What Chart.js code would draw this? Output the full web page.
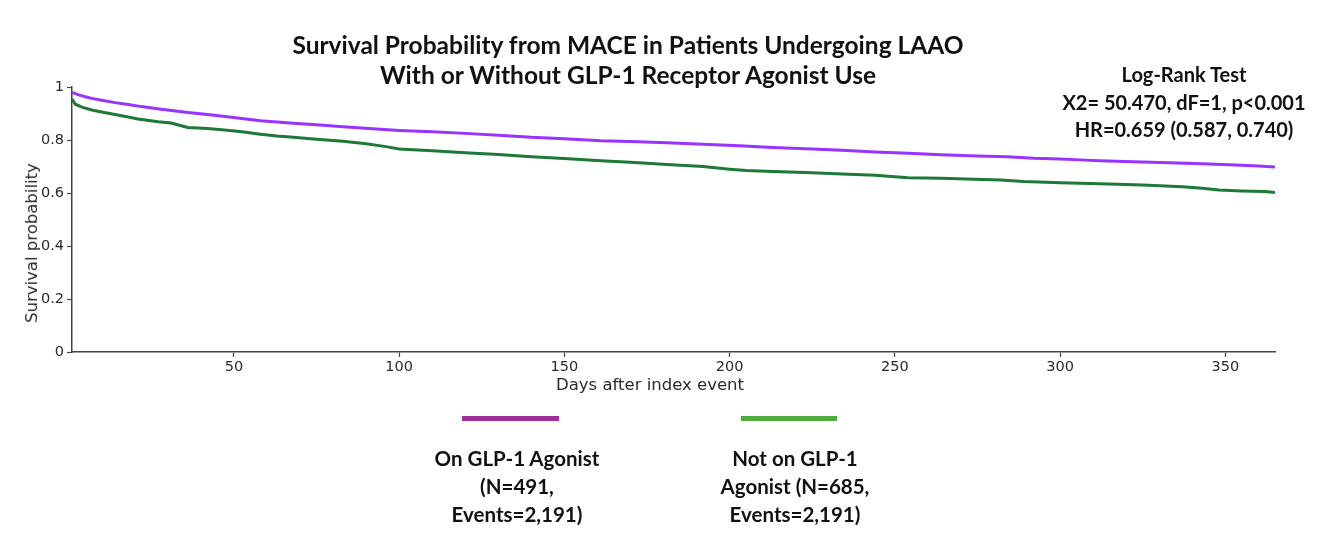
<!DOCTYPE html>
<html>
<head>
<meta charset="utf-8">
<script src="https://cdn.jsdelivr.net/npm/chart.js@4"></script>
<style>
  html, body { margin:0; padding:0; background:#fff; }
  #wrap { position:relative; width:1321px; height:546px; overflow:hidden; }
  canvas { position:absolute; left:0; top:0; }
  .t { position:absolute; font-family: Lato, "Open Sans", sans-serif; font-weight:bold; color:#111; text-align:center; white-space:nowrap; transform:translateX(-50%); }
  .ax { position:absolute; font-family: "DejaVu Sans", sans-serif; font-size:16.5px; color:#2a2a2a; white-space:nowrap; line-height:20px; }
  .bar { position:absolute; height:5px; }
</style>
</head>
<body>
<div id="wrap">
  <canvas id="c" width="1321" height="546"></canvas>
  <div class="t" style="left:628px; top:30px; font-size:24.5px; line-height:30px;">Survival Probability from MACE in Patients Undergoing LAAO<br>With or Without GLP-1 Receptor Agonist Use</div>
  <div class="t" style="left:1184px; top:61px; font-size:20px; line-height:27.5px;">Log-Rank Test<br>X2= 50.470, dF=1, p&lt;0.001<br>HR=0.659 (0.587, 0.740)</div>
  <div class="ax" style="left:650px; top:385px; transform:translate(-50%,-50%);">Days after index event</div>
  <div class="ax" style="left:32px; top:243px; transform:translate(-50%,-50%) rotate(-90deg);">Survival probability</div>
  <div class="bar" style="left:462px; top:416px; width:97px; background:#a0309a;"></div>
  <div class="bar" style="left:741px; top:416px; width:96px; background:#4fab3a;"></div>
  <div class="t" style="left:517px; top:444px; font-size:20.5px; line-height:28px;">On GLP-1 Agonist<br>(N=491,<br>Events=2,191)</div>
  <div class="t" style="left:795px; top:444px; font-size:20.5px; line-height:28px;">Not on GLP-1<br>Agonist (N=685,<br>Events=2,191)</div>
</div>
<script>
// ---- data ----
const onDays = [1,3,5,7,10,14,18,22,28,36,42,48,58,68,76,83,92,100,110,120,130,140,150,161,170,181,192,203,213,223,234,244,254,264,275,284,292,300,306,312,322,333,343,353,360,365];
const onSurv = [0.980,0.970,0.963,0.957,0.950,0.941,0.934,0.926,0.916,0.904,0.896,0.888,0.873,0.863,0.857,0.850,0.842,0.836,0.831,0.825,0.818,0.810,0.805,0.797,0.794,0.790,0.784,0.778,0.772,0.767,0.761,0.755,0.750,0.744,0.740,0.737,0.731,0.728,0.725,0.722,0.718,0.714,0.710,0.706,0.702,0.698];
const notDays = [1,2,4,7,10,14,18,21,27,31,36,42,48,53,58,63,68,75,83,90,96,100,110,120,130,140,150,161,170,181,192,200,205,213,223,234,244,254,264,274,282,289,300,306,312,325,337,343,348,355,362,365];
const notSurv = [0.955,0.935,0.924,0.913,0.906,0.896,0.887,0.879,0.869,0.864,0.847,0.843,0.837,0.830,0.822,0.815,0.810,0.803,0.795,0.786,0.775,0.766,0.759,0.752,0.745,0.737,0.730,0.722,0.716,0.708,0.700,0.690,0.685,0.681,0.677,0.672,0.667,0.658,0.656,0.652,0.649,0.643,0.639,0.637,0.635,0.630,0.624,0.618,0.611,0.608,0.606,0.602];
const xTicks = [50,100,150,200,250,300,350];
const yTicks = [0,0.2,0.4,0.6,0.8,1];
const seriesNames = ["On GLP-1 Agonist", "Not on GLP-1 Agonist"];

const toPts = (d, s) => d.map((x, i) => ({x: x, y: s[i]}));
const axisColor = '#444';
const tickFont = {family: 'DejaVu Sans', size: 14.5};

new Chart(document.getElementById('c'), {
  type: 'line',
  data: {
    datasets: [
      {label: seriesNames[0], data: toPts(onDays, onSurv), borderColor: '#9933ff', borderWidth: 3, pointRadius: 0, fill: false},
      {label: seriesNames[1], data: toPts(notDays, notSurv), borderColor: '#1d7a36', borderWidth: 3, pointRadius: 0, fill: false}
    ]
  },
  options: {
    responsive: false,
    animation: false,
    layout: {padding: {top: 87, right: 46, bottom: 144, left: 0}},
    plugins: {legend: {display: false}, tooltip: {enabled: false}, title: {display: false}},
    scales: {
      x: {
        type: 'linear', min: 1, max: 365,
        afterBuildTicks: s => { s.ticks = xTicks.map(v => ({value: v})); },
        afterFit: s => { s.height = 50; },
        ticks: {color: '#2a2a2a', font: tickFont, padding: 2, maxRotation: 0},
        grid: {display: true, drawOnChartArea: false, drawTicks: true, tickLength: 5, color: axisColor, tickWidth: 1.2},
        border: {display: true, color: axisColor, width: 1.5},
        title: {display: false}
      },
      y: {
        type: 'linear', min: 0, max: 1,
        afterBuildTicks: s => { s.ticks = yTicks.map(v => ({value: v})); },
        afterFit: s => { s.width = 72; },
        ticks: {color: '#2a2a2a', font: tickFont, padding: 3, callback: v => String(+(+v).toFixed(1))},
        grid: {display: true, drawOnChartArea: false, drawTicks: true, tickLength: 5, color: axisColor, tickWidth: 1.2},
        border: {display: true, color: axisColor, width: 1.5},
        title: {display: false}
      }
    }
  }
});
</script>
</body>
</html>
